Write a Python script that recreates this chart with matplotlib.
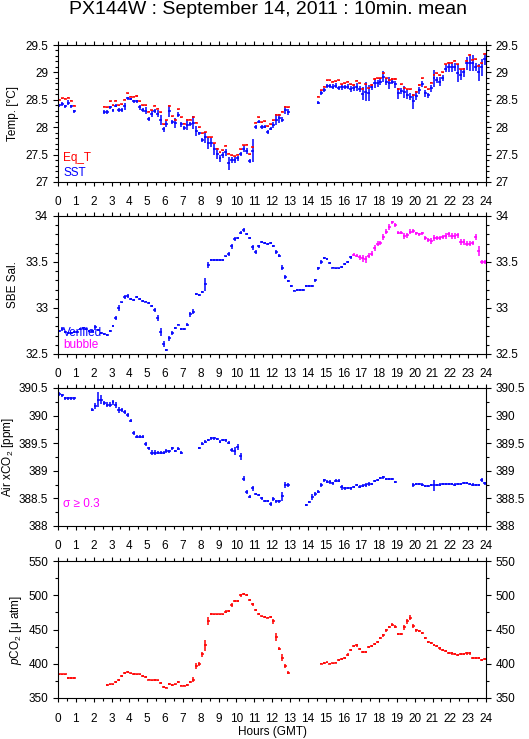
import numpy as np
import matplotlib
matplotlib.use('Agg')
import matplotlib.pyplot as plt
from matplotlib.ticker import MultipleLocator, FuncFormatter

plt.rcParams['font.family'] = ['Liberation Sans', 'DejaVu Sans']
plt.rcParams['mathtext.fontset'] = 'custom'
plt.rcParams['mathtext.rm'] = 'Liberation Sans'
plt.rcParams['mathtext.it'] = 'Liberation Sans:italic'

# ---------------- data (10-minute means; slot k covers hours k/6 .. (k+1)/6) ----------------
# Temperature panel
temp_starts = [0, 15, 87]
sst_a = [28.40, 28.42, 28.38, 28.45, 28.38, 28.29]
sst_b = [28.28, 28.28, 28.36, 28.31, 28.39, 28.31, 28.31, 28.38, 28.53, 28.51, 28.47, 28.47, 28.36,
         28.31, 28.30, 28.15, 28.24, 28.30, 28.25, 28.13, 27.96, 28.06, 28.29, 28.10, 28.08, 28.23,
         28.05, 27.98, 28.04, 28.06, 28.08, 27.93, 27.89, 27.77, 27.82, 27.71, 27.72, 27.60, 27.52,
         27.43, 27.49, 27.54, 27.34, 27.40, 27.40, 27.43, 27.51, 27.60, 27.57, 27.38, 27.57, 28.00,
         28.10, 28.00, 28.01, 27.91, 27.97, 28.04, 28.14, 28.16, 28.14, 28.31, 28.28]
sst_c = [28.45, 28.62, 28.68, 28.75, 28.75, 28.74, 28.76, 28.71, 28.73, 28.73, 28.74, 28.70, 28.71,
         28.73, 28.70, 28.61, 28.65, 28.62, 28.73, 28.80, 28.80, 28.83, 28.92, 28.83, 28.81, 28.83,
         28.78, 28.62, 28.66, 28.65, 28.59, 28.56, 28.47, 28.57, 28.67, 28.79, 28.62, 28.58, 28.71,
         28.89, 28.86, 28.83, 28.90, 29.07, 29.09, 29.09, 29.10, 28.99, 28.95, 29.00, 29.17, 29.17,
         29.17, 29.10, 29.00, 29.09, 29.24]
sst_err_a = [0.03, 0.04, 0.03, 0.05, 0.03, 0.03]
sst_err_b = [0.03, 0.04, 0.03, 0.03, 0.03, 0.04, 0.04, 0.06, 0.03, 0.02, 0.03, 0.02, 0.04, 0.04,
             0.06, 0.03, 0.06, 0.04, 0.06, 0.09, 0.04, 0.05, 0.10, 0.04, 0.09, 0.05, 0.04, 0.04,
             0.09, 0.03, 0.12, 0.09, 0.03, 0.04, 0.10, 0.10, 0.09, 0.10, 0.10, 0.06, 0.05, 0.06,
             0.12, 0.06, 0.05, 0.04, 0.04, 0.06, 0.05, 0.04, 0.21, 0.04, 0.03, 0.04, 0.03, 0.03,
             0.03, 0.05, 0.10, 0.08, 0.04, 0.06, 0.05]
sst_err_c = [0.03, 0.04, 0.04, 0.04, 0.04, 0.04, 0.04, 0.04, 0.05, 0.04, 0.05, 0.06, 0.05, 0.07,
             0.06, 0.12, 0.18, 0.15, 0.06, 0.08, 0.06, 0.06, 0.10, 0.06, 0.11, 0.05, 0.06, 0.10,
             0.06, 0.11, 0.08, 0.06, 0.14, 0.08, 0.06, 0.06, 0.06, 0.05, 0.06, 0.15, 0.06, 0.08,
             0.06, 0.06, 0.08, 0.09, 0.08, 0.16, 0.09, 0.08, 0.12, 0.15, 0.15, 0.08, 0.16, 0.15,
             0.10]
eqt_a = [28.50, 28.53, 28.52, 28.54, 28.48, 28.39]
eqt_b = [28.37, 28.36, 28.47, 28.40, 28.48, 28.40, 28.42, 28.50, 28.62, 28.56, 28.56, 28.57, 28.47,
         28.40, 28.40, 28.28, 28.31, 28.39, 28.34, 28.27, 28.05, 28.13, 28.39, 28.20, 28.14, 28.33,
         28.18, 28.06, 28.14, 28.14, 28.18, 28.08, 28.00, 27.89, 27.91, 27.82, 27.82, 27.71, 27.61,
         27.54, 27.58, 27.66, 27.52, 27.49, 27.47, 27.50, 27.60, 27.67, 27.68, 27.51, 27.63, 28.08,
         28.18, 28.09, 28.11, 28.02, 28.05, 28.13, 28.23, 28.23, 28.28, 28.37, 28.36]
eqt_c = [28.56, 28.67, 28.74, 28.86, 28.86, 28.83, 28.84, 28.86, 28.78, 28.80, 28.83, 28.78, 28.77,
         28.85, 28.80, 28.70, 28.78, 28.71, 28.77, 28.88, 28.89, 28.89, 28.98, 28.89, 28.86, 28.88,
         28.88, 28.69, 28.78, 28.71, 28.69, 28.69, 28.58, 28.65, 28.77, 28.89, 28.73, 28.69, 28.81,
         28.96, 28.98, 28.95, 29.00, 29.15, 29.18, 29.18, 29.21, 29.15, 29.06, 29.07, 29.21, 29.32,
         29.23, 29.24, 29.12, 29.17, 29.34]
eqt_err = 0.01

# Salinity panel
sal_start = 0
sal_verified = [32.75, 32.77, 32.74, 32.73, 32.73, 32.74, 32.74, 32.77, 32.78, 32.77, 32.75, 32.75,
                32.79, 32.76, 32.73, 32.72, 32.71, 32.75, 32.80, 32.89, 33.00, 33.06, 33.12, 33.13,
                33.10, 33.09, 33.12, 33.10, 33.08, 33.07, 33.05, 33.02, 32.98, 32.89, 32.74, 32.61,
                32.54, 32.67, 32.73, 32.78, 32.82, 32.77, 32.77, 32.82, 32.93, 32.96, 33.15, 33.14,
                33.17, 33.26, 33.47, 33.52, 33.52, 33.52, 33.52, 33.52, 33.56, 33.59, 33.67, 33.75,
                33.76, 33.82, 33.85, 33.80, 33.76, 33.66, 33.61, 33.67, 33.72, 33.71, 33.70, 33.71,
                33.67, 33.61, 33.57, 33.44, 33.34, 33.29, 33.24, 33.19, 33.20, 33.20, 33.20, 33.24,
                33.24, 33.24, 33.30, 33.43, 33.50, 33.54, 33.53, 33.49, 33.44, 33.43, 33.43, 33.45,
                33.48, 33.50, 33.55]
sal_verified_err = [0.01, 0.02, 0.01, 0.01, 0.01, 0.01, 0.01, 0.01, 0.01, 0.01, 0.01, 0.01, 0.03,
                    0.01, 0.01, 0.01, 0.01, 0.01, 0.01, 0.02, 0.03, 0.01, 0.02, 0.02, 0.01, 0.01,
                    0.01, 0.01, 0.01, 0.01, 0.01, 0.01, 0.02, 0.03, 0.04, 0.03, 0.01, 0.03, 0.02,
                    0.01, 0.01, 0.01, 0.01, 0.02, 0.03, 0.03, 0.01, 0.01, 0.01, 0.07, 0.03, 0.01,
                    0.01, 0.01, 0.01, 0.01, 0.01, 0.02, 0.03, 0.02, 0.01, 0.02, 0.02, 0.01, 0.01,
                    0.03, 0.02, 0.02, 0.01, 0.01, 0.01, 0.01, 0.01, 0.02, 0.02, 0.03, 0.02, 0.01,
                    0.01, 0.01, 0.01, 0.01, 0.01, 0.01, 0.01, 0.01, 0.02, 0.02, 0.02, 0.01, 0.01,
                    0.01, 0.01, 0.01, 0.01, 0.01, 0.01, 0.01, 0.02]
bubble_start = 99
sal_bubble = [33.58, 33.57, 33.55, 33.54, 33.53, 33.57, 33.59, 33.65, 33.70, 33.71, 33.77, 33.83,
              33.88, 33.93, 33.90, 33.82, 33.82, 33.78, 33.79, 33.83, 33.84, 33.81, 33.80, 33.81,
              33.76, 33.74, 33.73, 33.76, 33.76, 33.76, 33.77, 33.78, 33.80, 33.78, 33.78, 33.79,
              33.72, 33.72, 33.70, 33.70, 33.71, 33.77, 33.62, 33.50, 33.50]
sal_bubble_err = [0.02, 0.02, 0.03, 0.04, 0.04, 0.03, 0.03, 0.03, 0.03, 0.02, 0.03, 0.03, 0.03,
                  0.02, 0.02, 0.02, 0.02, 0.03, 0.03, 0.03, 0.02, 0.02, 0.02, 0.02, 0.02, 0.02,
                  0.03, 0.03, 0.02, 0.02, 0.02, 0.03, 0.03, 0.03, 0.03, 0.03, 0.03, 0.03, 0.03,
                  0.03, 0.02, 0.03, 0.05, 0.02, 0.02]

# Air xCO2 panel
xco2_starts = [0, 11, 47, 83, 119]
xco2_a = [390.39, 390.37, 390.31, 390.31, 390.31, 390.31]
xco2_b = [390.11, 390.17, 390.29, 390.29, 390.23, 390.20, 390.20, 390.24, 390.19, 390.10, 390.10,
          390.07, 390.01, 389.91, 389.69, 389.62, 389.62, 389.62, 389.49, 389.41, 389.33, 389.33,
          389.33, 389.33, 389.33, 389.36, 389.35, 389.41, 389.36, 389.40, 389.33]
xco2_c = [389.41, 389.49, 389.53, 389.56, 389.59, 389.59, 389.57, 389.53, 389.56, 389.55, 389.51,
          389.38, 389.36, 389.43, 389.26, 388.86, 388.62, 388.53, 388.68, 388.58, 388.56, 388.50,
          388.45, 388.45, 388.40, 388.49, 388.45, 388.45, 388.54, 388.74, 388.74]
xco2_d = [388.38, 388.43, 388.53, 388.58, 388.62, 388.74, 388.83, 388.80, 388.80, 388.77, 388.82,
          388.82, 388.70, 388.68, 388.69, 388.68, 388.71, 388.74, 388.71, 388.73, 388.74, 388.76,
          388.76, 388.82, 388.84, 388.87, 388.88, 388.85, 388.85, 388.85, 388.80]
xco2_e = [388.74, 388.76, 388.76, 388.75, 388.73, 388.73, 388.74, 388.74, 388.74, 388.75, 388.76,
          388.76, 388.76, 388.76, 388.75, 388.76, 388.76, 388.78, 388.78, 388.76, 388.75, 388.74,
          388.74, 388.83, 388.77]
xco2_err_a = [0.03, 0.03, 0.02, 0.02, 0.02, 0.02]
xco2_err_b = [0.03, 0.05, 0.13, 0.08, 0.04, 0.05, 0.04, 0.04, 0.06, 0.06, 0.04, 0.04, 0.03, 0.03,
              0.04, 0.03, 0.02, 0.03, 0.04, 0.03, 0.04, 0.04, 0.03, 0.03, 0.03, 0.04, 0.02, 0.03,
              0.02, 0.03, 0.03]
xco2_err_c = [0.02, 0.03, 0.03, 0.02, 0.03, 0.03, 0.02, 0.03, 0.02, 0.02, 0.03, 0.04, 0.08, 0.05,
              0.07, 0.04, 0.04, 0.03, 0.05, 0.02, 0.02, 0.03, 0.02, 0.02, 0.03, 0.03, 0.03, 0.03,
              0.08, 0.06, 0.04]
xco2_err_d = [0.02, 0.02, 0.05, 0.04, 0.03, 0.04, 0.03, 0.03, 0.04, 0.03, 0.03, 0.03, 0.04, 0.03,
              0.02, 0.02, 0.02, 0.02, 0.03, 0.03, 0.03, 0.03, 0.02, 0.02, 0.02, 0.02, 0.02, 0.02,
              0.02, 0.02, 0.02]
xco2_err_e = [0.04, 0.02, 0.02, 0.02, 0.02, 0.02, 0.02, 0.10, 0.02, 0.02, 0.02, 0.02, 0.02, 0.02,
              0.02, 0.02, 0.02, 0.02, 0.02, 0.02, 0.02, 0.02, 0.02, 0.04, 0.02]

# pCO2 panel
pco2_starts = [0, 16, 88]
pco2_a = [384.5, 384.5, 384.5, 379.0, 379.0, 379.0]
pco2_b = [369.0, 370.0, 370.0, 373.0, 376.0, 382.0, 386.0, 388.0, 386.0, 385.0, 384.5, 384.5,
          382.5, 380.0, 377.0, 376.0, 376.5, 376.0, 372.0, 366.5, 365.0, 370.0, 369.0, 370.0,
          373.0, 368.0, 368.0, 369.0, 373.0, 377.0, 397.0, 399.5, 413.6, 427.0, 462.6, 473.0,
          472.0, 472.0, 472.0, 472.0, 476.0, 476.7, 486.4, 491.0, 491.7, 500.0, 502.4, 500.0,
          493.7, 487.0, 478.0, 473.3, 469.4, 468.4, 467.5, 468.4, 462.0, 439.0, 422.0, 409.0,
          396.6, 387.0]
pco2_c = [400.0, 401.0, 402.0, 400.0, 400.5, 401.5, 405.6, 406.3, 409.0, 413.0, 420.0, 425.7,
          427.0, 421.0, 417.5, 417.5, 423.8, 425.7, 428.6, 432.0, 437.0, 441.7, 449.0, 453.0,
          457.0, 454.0, 444.0, 444.0, 453.0, 462.0, 467.5, 455.0, 449.0, 447.6, 445.0, 437.0,
          432.0, 430.6, 428.0, 425.7, 422.3, 420.0, 418.4, 416.0, 415.0, 414.0, 413.0, 414.0,
          414.0, 415.0, 415.0, 409.0, 409.0, 407.8, 405.3, 406.8]
pco2_err_a = [1.0, 1.0, 1.0, 1.0, 1.0, 1.0]
pco2_err_b = [1.0, 1.0, 1.0, 1.5, 1.5, 1.5, 1.5, 1.5, 1.0, 1.0, 1.0, 1.0, 1.5, 1.5, 1.0, 1.0, 1.0,
              1.0, 1.5, 1.5, 1.0, 1.5, 1.0, 1.0, 1.5, 1.0, 1.0, 1.5, 1.5, 4.0, 4.0, 3.0, 4.0, 8.0,
              6.0, 1.5, 1.0, 1.0, 1.0, 1.0, 2.0, 1.5, 3.0, 1.5, 1.5, 2.0, 1.5, 1.5, 1.5, 2.0, 1.5,
              1.5, 1.0, 1.0, 1.0, 1.0, 4.0, 6.0, 2.0, 5.0, 3.0, 2.0]
pco2_err_c = [1.0, 1.0, 1.0, 1.0, 1.0, 1.0, 2.0, 1.5, 1.5, 2.0, 2.0, 1.5, 2.0, 1.5, 1.5, 1.5, 1.5,
              1.5, 1.5, 1.5, 1.5, 2.0, 2.0, 1.5, 2.0, 2.0, 1.5, 1.5, 3.0, 4.0, 3.0, 3.0, 2.0, 1.5,
              1.5, 1.5, 1.5, 1.5, 1.5, 1.5, 1.5, 1.5, 1.5, 1.5, 1.5, 1.5, 1.5, 1.5, 1.5, 2.0, 1.5,
              1.5, 1.5, 1.5, 1.5, 1.5]

hour_ticks = list(range(0, 25))

BLUE = '#0000ff'
RED = '#ff0000'
MAG = '#ff00ff'

# ---------------- figure ----------------
fig = plt.figure(figsize=(5.29, 7.39), dpi=100)
W, H = 529.0, 739.0
left = 58 / W
width = (486 - 58) / W
panel_px = [(45, 182), (216, 354), (388, 526), (561, 698)]
xpads = [7.0, 7.0, 7.0, 8.0]
ylabel_right_px = [19, 19, 16, 24]

fmt = FuncFormatter(lambda v, p: f'{v:g}')


def slot_hours(start, n):
    return (start + np.arange(n) + 0.5) / 6.0


def draw(ax, start, vals, errs, color):
    x = slot_hours(start, len(vals))
    yerr = errs if np.ndim(errs) else np.full(len(vals), errs)
    ax.errorbar(x, vals, xerr=1 / 12, yerr=yerr, fmt='none', ecolor=color,
                elinewidth=1.1, capsize=0)


axes = []
for (top, bot), xp in zip(panel_px, xpads):
    ax = fig.add_axes([left, 1 - bot / H, width, (bot - top) / H])
    ax.set_xlim(0, 24)
    ax.set_xticks(hour_ticks)
    ax.xaxis.set_minor_locator(MultipleLocator(0.5))
    ax.yaxis.set_major_formatter(fmt)
    ax.tick_params(axis='both', which='both', direction='out', top=True, right=True,
                   labelright=True, labeltop=False, width=0.8, labelsize=8.5, color='black')
    ax.tick_params(axis='x', which='major', length=3.0, pad=xp)
    ax.tick_params(axis='x', which='minor', length=2.0)
    ax.tick_params(axis='y', which='major', length=3.6, pad=3.5)
    ax.tick_params(axis='y', which='minor', length=2.0)
    for s in ax.spines.values():
        s.set_linewidth(0.8)
    axes.append(ax)

ax1, ax2, ax3, ax4 = axes

# Temperature
ax1.set_ylim(27, 29.5)
ax1.yaxis.set_major_locator(MultipleLocator(0.5))
ax1.yaxis.set_minor_locator(MultipleLocator(0.1))
for st, v, e in zip(temp_starts, [sst_a, sst_b, sst_c], [sst_err_a, sst_err_b, sst_err_c]):
    draw(ax1, st, v, e, BLUE)
for st, v in zip(temp_starts, [eqt_a, eqt_b, eqt_c]):
    draw(ax1, st, v, eqt_err, RED)
ax1.set_ylabel('Temp. [°C]', fontsize=8.5)
ax1.text(0.012, 0.175, 'Eq_T', color=RED, fontsize=8.5, transform=ax1.transAxes, va='center')
ax1.text(0.012, 0.066, 'SST', color=BLUE, fontsize=8.5, transform=ax1.transAxes, va='center')

# Salinity
ax2.set_ylim(32.5, 34)
ax2.yaxis.set_major_locator(MultipleLocator(0.5))
ax2.yaxis.set_minor_locator(MultipleLocator(0.1))
draw(ax2, sal_start, sal_verified, sal_verified_err, BLUE)
draw(ax2, bubble_start, sal_bubble, sal_bubble_err, MAG)
ax2.set_ylabel('SBE Sal.', fontsize=8.5)
ax2.text(0.012, 0.152, 'Verified', color=BLUE, fontsize=8.5, transform=ax2.transAxes, va='center')
ax2.text(0.012, 0.065, 'bubble', color=MAG, fontsize=8.5, transform=ax2.transAxes, va='center')

# Air xCO2
ax3.set_ylim(388, 390.5)
ax3.yaxis.set_major_locator(MultipleLocator(0.5))
ax3.yaxis.set_minor_locator(MultipleLocator(0.25))
for st, v, e in zip(xco2_starts, [xco2_a, xco2_b, xco2_c, xco2_d, xco2_e],
                    [xco2_err_a, xco2_err_b, xco2_err_c, xco2_err_d, xco2_err_e]):
    draw(ax3, st, v, e, BLUE)
ax3.set_ylabel('Air xCO$_2$ [ppm]', fontsize=8.5)
ax3.text(0.012, 0.16, 'σ ≥ 0.3', color=MAG, fontsize=8.5, transform=ax3.transAxes, va='center')

# pCO2
ax4.set_ylim(350, 550)
ax4.yaxis.set_major_locator(MultipleLocator(50))
ax4.yaxis.set_minor_locator(MultipleLocator(25))
for st, v, e in zip(pco2_starts, [pco2_a, pco2_b, pco2_c], [pco2_err_a, pco2_err_b, pco2_err_c]):
    draw(ax4, st, v, e, RED)
ax4.set_ylabel('$p$CO$_2$ [μ atm]', fontsize=8.5)

for ax, rp in zip(axes, ylabel_right_px):
    ax.yaxis.set_label_coords(-(58 - rp) / 428, 0.5)

fig.text(267.5 / W, 1 - 10 / H, 'PX144W : September 14, 2011 : 10min. mean',
         ha='center', va='center', fontsize=14)
fig.text(272 / W, 1 - 731.5 / H, 'Hours (GMT)', ha='center', va='center', fontsize=8.5)

fig.savefig('out.png', dpi=100)
